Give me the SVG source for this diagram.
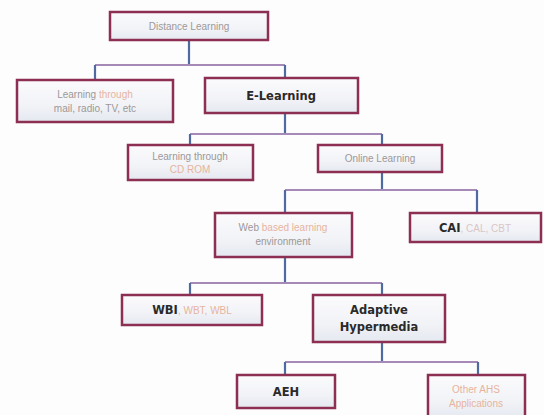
<svg xmlns="http://www.w3.org/2000/svg" width="544" height="415" viewBox="0 0 544 415">
<defs>
<linearGradient id="bf" x1="0" y1="0" x2="0" y2="1">
<stop offset="0" stop-color="#fbfbfd"/>
<stop offset="0.6" stop-color="#f2f3f7"/>
<stop offset="1" stop-color="#e4e8f0"/>
</linearGradient>
</defs>
<style>
.box{fill:url(#bf);stroke:#8c2f52;stroke-width:2.5}
.h{stroke:#a58ab8;stroke-width:2;fill:none}
.v{stroke:#4e6aa0;stroke-width:2.2;fill:none}
.t{font-family:"Liberation Sans",Arial,sans-serif;font-size:10px;text-anchor:middle;fill:#9d9898}
.p{fill:#e6b49e}
.k{font-family:"DejaVu Sans",Verdana,sans-serif;font-weight:bold;font-size:11.5px;fill:#2a2a2a}
</style>
<rect width="544" height="415" fill="#fdfdfd"/>
<g id="connectors">
<path class="v" d="M189 40V65"/>
<path class="h" d="M95 65H285"/>
<path class="v" d="M95 65V80M285 65V78"/>
<path class="v" d="M285 113V134"/>
<path class="h" d="M190 134H382"/>
<path class="v" d="M190 134V145M382 134V145"/>
<path class="v" d="M382 172V190"/>
<path class="h" d="M285 190H477"/>
<path class="v" d="M285 190V213M477 190V213"/>
<path class="v" d="M285 257V283"/>
<path class="h" d="M190 283H382"/>
<path class="v" d="M190 283V295M382 283V295"/>
<path class="v" d="M382 342V362"/>
<path class="h" d="M285 362H478"/>
<path class="v" d="M285 362V375M478 362V375"/>
</g>
<g id="distance">
<rect class="box" x="110" y="12" width="158" height="28"/>
<text class="t" x="189" y="30" font-size="10.5">Distance Learning</text>
</g>
<g id="traditional">
<rect class="box" x="17" y="80" width="156" height="42"/>
<text class="t" x="95" y="98">Learning <tspan class="p">through</tspan></text>
<text class="t" x="95" y="112">mail, radio, TV, etc</text>
</g>
<g id="elearning">
<rect class="box" x="205" y="78" width="153" height="35"/>
<text class="t k" x="281" y="100" font-size="12.5">E-Learning</text>
</g>
<g id="cdrom">
<rect class="box" x="128" y="145" width="125" height="35"/>
<text class="t" x="190" y="160">Learning through</text>
<text class="t p" x="190" y="173">CD ROM</text>
</g>
<g id="online">
<rect class="box" x="318" y="145" width="124" height="27"/>
<text class="t" x="380" y="162" fill="#d4a6a6">Online Learning</text>
</g>
<g id="webbased">
<rect class="box" x="215" y="213" width="137" height="44"/>
<text class="t" x="283" y="231">Web <tspan class="p">based learning</tspan></text>
<text class="t" x="283" y="245" fill="#b8a8a8">environment</text>
</g>
<g id="cai">
<rect class="box" x="410" y="213" width="131" height="29"/>
<text class="t" x="475" y="232"><tspan class="k">CAI</tspan><tspan fill="#d9c6c6">, CAL, CBT</tspan></text>
</g>
<g id="wbi">
<rect class="box" x="122" y="295" width="140" height="30"/>
<text class="t" x="192" y="314"><tspan class="k">WBI</tspan><tspan class="p">, WBT, WBL</tspan></text>
</g>
<g id="adaptive">
<rect class="box" x="313" y="295" width="132" height="47"/>
<text class="t k" x="379" y="314" font-size="12">Adaptive</text>
<text class="t k" x="379" y="331" font-size="12">Hypermedia</text>
</g>
<g id="aeh">
<rect class="box" x="237" y="375" width="98" height="33"/>
<text class="t k" x="286" y="396">AEH</text>
</g>
<g id="otherahs">
<rect class="box" x="428" y="375" width="97" height="44"/>
<text class="t p" x="476" y="393">Other AHS</text>
<text class="t p" x="476" y="407" font-size="10.5">Applications</text>
</g>
</svg>
